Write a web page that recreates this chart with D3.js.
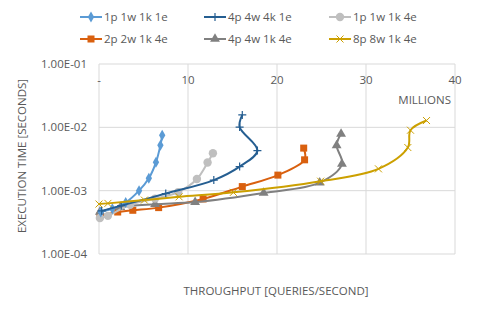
<!DOCTYPE html>
<html>
<head>
<meta charset="utf-8">
<script src="https://cdn.jsdelivr.net/npm/d3@7"></script>
<style>
  body { margin: 0; background: #fff; }
  text { font-family: "Open Sans", sans-serif; fill: #595959; }
</style>
</head>
<body>
<div id="chart"></div>
<script>
var svgWidth = 499;
var svgHeight = 312;

// throughput in millions of queries/second, time in seconds
var seriesNames = ["1p 1w 1k 1e", "4p 4w 4k 1e", "1p 1w 1k 4e", "2p 2w 1k 4e", "4p 4w 1k 4e", "8p 8w 1k 4e"];
var seriesColors = ["#5B9BD5", "#255E91", "#BFBFBF", "#D9600F", "#808080", "#CCA000"];
var seriesMarkers = ["diamond", "plus", "circle", "square", "triangle", "cross"];

var s1x = [0.2, 1.5, 3.0, 4.5, 5.6, 6.4, 6.9, 7.1];
var s1y = [4.6e-4, 5.2e-4, 6.5e-4, 1.0e-3, 1.57e-3, 2.8e-3, 5.2e-3, 7.5e-3];
var s2x = [0.3, 2.5, 7.5, 12.9, 15.8, 17.8, 15.8, 16.1];
var s2y = [4.8e-4, 5.8e-4, 9.0e-4, 1.47e-3, 2.4e-3, 4.3e-3, 1.01e-2, 1.57e-2];
var s3x = [0.1, 1.0, 3.5, 6.3, 8.9, 11.0, 12.2, 12.8];
var s3y = [3.7e-4, 4.0e-4, 6.0e-4, 7.5e-4, 9.5e-4, 1.53e-3, 2.78e-3, 3.9e-3];
var s4x = [0.1, 2.1, 3.8, 6.7, 11.7, 16.1, 20.1, 23.1, 23.0];
var s4y = [4.0e-4, 4.6e-4, 4.9e-4, 5.4e-4, 7.4e-4, 1.16e-3, 1.76e-3, 3.07e-3, 4.7e-3];
var s5x = [0.1, 2.4, 6.3, 10.8, 18.5, 24.8, 27.3, 26.7, 27.2];
var s5y = [4.6e-4, 5.5e-4, 6.1e-4, 6.6e-4, 9.2e-4, 1.34e-3, 2.64e-3, 5.2e-3, 7.9e-3];
var s6x = [0.0, 1.0, 5.1, 9.0, 15.1, 24.9, 31.4, 34.7, 35.0, 36.8];
var s6y = [6.15e-4, 6.3e-4, 7.1e-4, 8.0e-4, 9.4e-4, 1.41e-3, 2.21e-3, 4.8e-3, 9.0e-3, 1.28e-2];

var xValues = [s1x, s2x, s3x, s4x, s5x, s6x];
var yValues = [s1y, s2y, s3y, s4y, s5y, s6y];

var xTicks = [0, 10, 20, 30, 40];
var xTickLabels = ["-", "10", "20", "30", "40"];
var yTicks = [1e-4, 1e-3, 1e-2, 1e-1];
var yTickLabels = ["1.00E-04", "1.00E-03", "1.00E-02", "1.00E-01"];

var margin = { top: 64, right: 44, bottom: 58, left: 99 };
var width = svgWidth - margin.left - margin.right;
var height = svgHeight - margin.top - margin.bottom;

var svg = d3.select("#chart")
    .append("svg")
    .attr("width", svgWidth)
    .attr("height", svgHeight);

var plot = svg.append("g")
    .attr("transform", "translate(" + margin.left + "," + margin.top + ")");

var xScale = d3.scaleLinear().domain([0, 40]).range([0, width]);
var yScale = d3.scaleLog().domain([1e-4, 1e-1]).range([height, 0]);

// gridlines
plot.selectAll(".vgrid").data(xTicks).enter()
    .append("line")
    .attr("x1", function (d) { return xScale(d); })
    .attr("x2", function (d) { return xScale(d); })
    .attr("y1", 0).attr("y2", height)
    .attr("stroke", "#D9D9D9").attr("stroke-width", 1);
plot.selectAll(".hgrid").data(yTicks).enter()
    .append("line")
    .attr("x1", 0).attr("x2", width)
    .attr("y1", function (d) { return yScale(d); })
    .attr("y2", function (d) { return yScale(d); })
    .attr("stroke", "#D9D9D9").attr("stroke-width", 1);

// y tick labels
plot.selectAll(".ylab").data(yTicks).enter()
    .append("text")
    .attr("x", -12)
    .attr("y", function (d) { return yScale(d); })
    .attr("dy", "0.35em")
    .attr("text-anchor", "end")
    .attr("font-size", 11.5)
    .text(function (d, i) { return yTickLabels[i]; });

// x tick labels (shown at top, inside plot)
plot.selectAll(".xlab").data(xTicks).enter()
    .append("text")
    .attr("x", function (d) { return xScale(d); })
    .attr("y", 16)
    .attr("dy", "0.35em")
    .attr("text-anchor", "middle")
    .attr("font-size", 11.5)
    .text(function (d, i) { return xTickLabels[i]; });

plot.append("text")
    .attr("x", width - 4)
    .attr("y", 36)
    .attr("dy", "0.35em")
    .attr("text-anchor", "end")
    .attr("font-size", 11.5)
    .text("MILLIONS");

// axis titles
svg.append("text")
    .attr("transform", "translate(22," + (margin.top + height / 2 - 3) + ")rotate(-90)")
    .attr("text-anchor", "middle")
    .attr("dy", "0.35em")
    .attr("font-size", 11.5)
    .text("EXECUTION TIME [SECONDS]");
svg.append("text")
    .attr("x", 276)
    .attr("y", 291)
    .attr("dy", "0.35em")
    .attr("text-anchor", "middle")
    .attr("font-size", 11.5)
    .text("THROUGHPUT [QUERIES/SECOND]");

// markers
function drawMarker(g, type, color, size) {
    if (type === "diamond") {
        g.append("path").attr("d", d3.symbol(d3.symbolDiamond, size * 5)()).attr("fill", color);
    } else if (type === "circle") {
        g.append("circle").attr("r", size * 0.6).attr("fill", color);
    } else if (type === "square") {
        g.append("rect").attr("x", -size / 2).attr("y", -size / 2)
            .attr("width", size).attr("height", size).attr("fill", color);
    } else if (type === "triangle") {
        g.append("path").attr("d", d3.symbol(d3.symbolTriangle, size * 6)()).attr("fill", color);
    } else if (type === "plus") {
        g.append("path").attr("d", "M-4,0H4M0,-4V4").attr("stroke", color).attr("stroke-width", 1.2);
    } else if (type === "cross") {
        g.append("path").attr("d", "M-3.5,-3.5L3.5,3.5M-3.5,3.5L3.5,-3.5").attr("stroke", color).attr("stroke-width", 1);
    }
}

var line = d3.line()
    .x(function (d) { return xScale(d[0]); })
    .y(function (d) { return yScale(d[1]); })
    .curve(d3.curveCatmullRom.alpha(0.5));

var drawOrder = [3, 4, 2, 0, 1, 5];
drawOrder.forEach(function (i) {
    var pts = xValues[i].map(function (x, j) { return [x, yValues[i][j]]; });
    plot.append("path")
        .datum(pts)
        .attr("d", line)
        .attr("fill", "none")
        .attr("stroke", seriesColors[i])
        .attr("stroke-width", 2);
    pts.forEach(function (p) {
        var g = plot.append("g")
            .attr("transform", "translate(" + xScale(p[0]) + "," + yScale(p[1]) + ")");
        drawMarker(g, seriesMarkers[i], seriesColors[i], 7);
    });
});

// legend
var legendCols = [80, 204, 329];
var legendRows = [17, 39];
seriesNames.forEach(function (name, i) {
    var lx = legendCols[i % 3];
    var ly = legendRows[Math.floor(i / 3)];
    var g = svg.append("g").attr("transform", "translate(" + lx + "," + ly + ")");
    g.append("line").attr("x1", 0).attr("x2", 22).attr("y1", 0).attr("y2", 0)
        .attr("stroke", seriesColors[i]).attr("stroke-width", 2);
    var m = g.append("g").attr("transform", "translate(11,0)");
    drawMarker(m, seriesMarkers[i], seriesColors[i], 7);
    g.append("text")
        .attr("x", 24)
        .attr("dy", "0.35em")
        .attr("font-size", 11.5)
        .text(name);
});
</script>
</body>
</html>
